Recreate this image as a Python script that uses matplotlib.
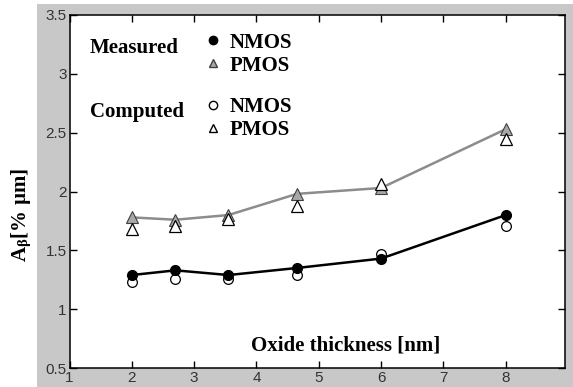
import matplotlib
matplotlib.use("Agg")
import matplotlib.pyplot as plt
from matplotlib.lines import Line2D
from matplotlib.patches import Rectangle

# oxide thickness [nm]
tox = [2, 2.7, 3.55, 4.65, 6, 8]
# A_beta values [% um]
nmos_measured = [1.29, 1.33, 1.29, 1.35, 1.43, 1.80]
nmos_computed = [1.23, 1.26, 1.26, 1.29, 1.47, 1.71]
pmos_measured = [1.78, 1.76, 1.80, 1.98, 2.03, 2.53]
pmos_computed = [1.68, 1.71, 1.77, 1.88, 2.06, 2.45]

x_ticks = [1, 2, 3, 4, 5, 6, 7, 8]
y_ticks = [0.5, 1, 1.5, 2, 2.5, 3, 3.5]

plt.rcParams["mathtext.fontset"] = "stix"
serif = "Liberation Serif"
sans = "Liberation Sans"
gray_bg = "#c8c8c8"

fig = plt.figure(figsize=(5.73, 3.87), dpi=100, facecolor="white")
# gray panel behind the axes (white strip left and top)
fig.patches.append(Rectangle((37 / 573, 0), 1 - 37 / 573, 383 / 387,
                             transform=fig.transFigure, facecolor=gray_bg,
                             edgecolor="none", zorder=-10))

ax = fig.add_axes([69.5 / 573, 19 / 387, 495.5 / 573, 353 / 387])
ax.set_facecolor("white")

ax.plot(tox, pmos_measured, color="#8c8c8c", lw=1.8, marker="^", ms=8,
        mfc="#a8a8a8", mec="#404040", mew=0.8, zorder=3)
ax.plot(tox, pmos_computed, ls="none", marker="^", ms=8, mfc="white",
        mec="black", mew=0.9, zorder=3)
ax.plot(tox, nmos_measured, color="black", lw=1.8, marker="o", ms=7,
        mfc="black", mec="black", zorder=4)
ax.plot(tox, nmos_computed, ls="none", marker="o", ms=7, mfc="white",
        mec="black", mew=0.9, zorder=3)

ax.set_xlim(1, 8.95)
ax.set_ylim(0.5, 3.5)
ax.set_xticks(x_ticks)
ax.set_yticks(y_ticks)
ax.set_xticklabels([str(t) for t in x_ticks])
ax.set_yticklabels([("%g" % t) for t in y_ticks])
ax.tick_params(direction="in", length=5, width=1, top=True, right=True,
               labelsize=11, labelcolor="#333333", pad=2)
for lab in ax.get_xticklabels() + ax.get_yticklabels():
    lab.set_fontfamily(sans)
for sp in ax.spines.values():
    sp.set_linewidth(1.1)

ax.text(0.557, 0.065, "Oxide thickness [nm]", transform=ax.transAxes,
        ha="center", va="center", fontsize=15, fontweight="bold",
        fontfamily=serif)
fig.text(22 / 573, 1 - 215 / 387, r"A$_\mathregular{β}$[% µm]", rotation=90,
         ha="center", va="center", fontsize=15, fontweight="bold",
         fontfamily=serif)

ax.text(0.0414, 0.9065, "Measured", transform=ax.transAxes, ha="left",
        va="center", fontsize=15, fontweight="bold", fontfamily=serif)
ax.text(0.0414, 0.725, "Computed", transform=ax.transAxes, ha="left",
        va="center", fontsize=15, fontweight="bold", fontfamily=serif)

h_meas = [Line2D([], [], ls="none", marker="o", ms=6, mfc="black", mec="black"),
          Line2D([], [], ls="none", marker="^", ms=6, mfc="#a8a8a8", mec="#404040")]
h_comp = [Line2D([], [], ls="none", marker="o", ms=6, mfc="white", mec="black"),
          Line2D([], [], ls="none", marker="^", ms=6, mfc="white", mec="black")]
leg_kw = dict(frameon=False, handlelength=0.8, handletextpad=0.4,
              borderpad=0, borderaxespad=0, labelspacing=0.15,
              prop={"family": serif, "weight": "bold", "size": 15},
              loc="upper left")
leg1 = ax.legend(h_meas, ["NMOS", "PMOS"], bbox_to_anchor=(0.272, 0.95), **leg_kw)
ax.add_artist(leg1)
ax.legend(h_comp, ["NMOS", "PMOS"], bbox_to_anchor=(0.272, 0.768), **leg_kw)

fig.savefig("out.png", dpi=100, facecolor=fig.get_facecolor())
